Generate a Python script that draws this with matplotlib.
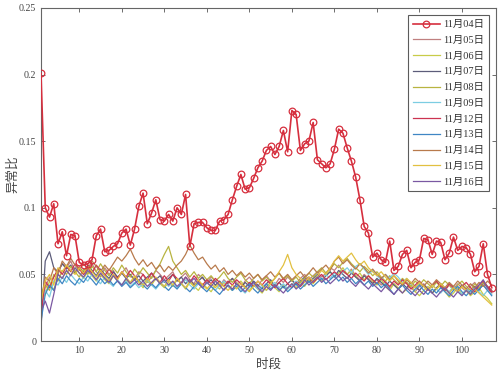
import numpy as np
import matplotlib
matplotlib.use("Agg")
import matplotlib.pyplot as plt

plt.rcParams['font.family'] = ['Liberation Serif', 'Noto Sans CJK SC', 'DejaVu Sans']

# values in units of 0.001 (異常比 x 1000), periods 1..107
red04 = [201,100,93,103,73,82,64,80,79,59,
         57,58,61,79,84,67,68,71,73,81,
         84,72,84,101,111,88,96,106,91,90,
         95,90,100,95,110,71,88,89,89,85,
         83,83,90,91,95,106,116,125,114,115,
         122,130,135,143,146,140,146,158,142,173,
         170,143,148,150,164,136,133,130,133,144,
         159,156,145,135,123,106,86,81,63,66,
         61,59,75,53,56,65,68,55,59,61,
         77,76,65,75,74,61,66,78,68,71,
         70,65,52,56,73,50,40]
s05 = [25,40,48,44,52,58,55,60,52,56, 50,54,58,52,48,55,50,53,47,51,
       55,49,46,52,50,44,48,53,50,46, 49,52,45,48,51,46,43,50,47,44,
       48,45,41,46,43,47,44,40,45,48, 44,41,46,49,45,42,47,44,48,45,
       43,47,50,46,49,52,48,51,55,53, 57,52,50,54,49,46,50,47,44,46,
       42,45,40,43,39,42,44,40,37,41, 43,39,42,45,40,38,42,39,43,40,
       37,41,44,39,42,38,36]
s06 = [30,35,45,38,50,47,53,49,55,51, 47,52,49,45,50,46,43,49,45,42,
       46,43,48,44,40,45,42,47,43,40, 44,41,46,43,39,44,41,38,43,40,
       37,42,39,44,41,38,42,45,41,38, 42,39,36,41,44,40,37,42,39,43,
       40,44,41,46,43,47,45,49,52,48, 51,55,50,53,48,51,46,49,45,42,
       46,41,38,43,40,36,39,42,37,34, 38,41,36,39,42,37,33,36,40,35,
       38,34,37,40,35,32,28]
s07 = [10,60,67,55,52,58,54,57,51,55, 52,57,53,49,54,50,47,52,48,51,
       47,50,46,49,45,48,51,46,49,44, 47,50,45,48,43,46,42,45,48,43,
       46,42,45,41,44,47,42,40,44,41, 45,42,39,43,46,41,44,40,43,46,
       42,45,48,44,47,50,46,49,52,48, 53,50,47,51,48,45,49,46,43,47,
       44,41,45,42,39,43,40,44,41,38, 42,39,36,40,43,39,36,41,38,42,
       39,36,41,38,44,40,37]
s08 = [35,42,38,50,45,53,50,56,52,48, 54,50,56,52,58,53,49,55,51,57,
       52,48,54,50,55,51,47,53,58,65, 71,60,55,50,53,48,52,47,50,46,
       49,45,48,52,47,44,48,51,46,43, 47,50,45,48,44,47,51,46,49,45,
       48,44,47,51,48,52,55,51,54,58, 55,59,62,58,55,52,56,53,49,52,
       48,45,49,46,43,47,44,41,45,42, 46,43,40,44,41,45,42,38,42,45,
       41,38,43,40,44,41,38]
s09 = [28,38,33,45,42,48,44,50,46,43, 48,45,50,46,43,48,44,41,46,42,
       45,41,44,40,43,46,42,39,43,45, 41,44,40,43,46,42,39,43,40,44,
       41,38,42,45,41,38,42,39,36,40, 43,39,42,38,41,44,40,43,39,42,
       45,41,44,48,45,49,46,50,47,51, 48,52,55,51,56,58,54,50,53,49,
       46,50,47,51,48,44,47,43,40,44, 41,38,42,39,36,40,37,41,38,35,
       39,36,40,37,34,38,35]
s12 = [20,45,40,48,54,50,56,52,58,54, 50,55,51,57,53,49,54,50,47,52,
       48,53,49,45,50,46,51,47,44,49, 45,50,47,43,48,44,49,45,42,46,
       43,47,44,41,45,42,46,43,40,44, 41,45,42,46,43,40,44,47,43,40,
       44,41,45,48,44,47,50,46,49,52, 49,53,50,47,51,48,45,49,46,43,
       47,44,41,45,42,46,43,39,42,45, 41,38,42,45,41,38,43,40,37,41,
       44,40,37,42,45,41,38]
s13 = [15,35,42,38,47,43,49,45,42,47, 44,49,46,42,47,43,46,42,45,41,
       44,40,43,46,42,39,43,40,44,41, 38,42,39,43,40,37,41,44,40,37,
       41,38,35,39,42,38,41,37,40,43, 39,36,40,43,39,42,38,41,37,40,
       43,39,42,45,41,44,47,43,46,49, 45,48,44,47,43,46,42,45,41,44,
       40,43,39,35,39,42,38,35,39,42, 38,35,39,36,40,37,34,38,41,37,
       34,38,35,39,42,38,34]
s14 = [30,48,45,55,50,60,56,62,57,53, 58,54,60,56,52,57,53,58,63,60,
       64,69,62,57,61,56,59,54,57,52, 56,53,57,60,65,72,66,61,63,58,
       54,57,52,55,50,53,49,52,48,51, 47,50,46,49,52,48,51,47,50,46,
       49,52,48,51,55,51,54,57,53,60, 63,58,61,57,54,58,55,51,54,50,
       47,50,46,49,45,42,46,43,47,44, 41,45,42,46,43,40,44,41,45,42,
       39,43,40,44,41,45,42]
s15 = [30,45,50,42,55,52,57,53,50,55, 51,56,52,48,53,49,45,50,46,52,
       48,44,49,45,42,47,43,48,44,41, 46,42,47,43,40,45,41,46,42,39,
       43,40,44,41,38,42,39,43,40,37, 41,45,42,38,43,47,52,57,65,55,
       50,47,44,48,45,49,53,50,55,60, 64,60,63,66,61,57,60,55,52,49,
       52,48,45,49,46,43,47,44,40,44, 41,38,42,39,43,40,36,40,37,41,
       38,35,39,36,33,30,27]
s16 = [22,30,21,35,50,47,53,49,55,51, 48,53,50,46,51,47,44,49,45,42,
       47,43,46,42,45,41,44,47,43,46, 42,45,41,44,48,44,47,43,40,44,
       41,45,42,38,42,39,43,40,37,41, 44,40,37,41,38,42,39,36,40,43,
       39,42,46,42,45,48,44,47,43,46, 49,45,48,44,41,45,42,39,43,40,
       37,41,38,35,39,36,40,37,34,38, 35,39,36,33,37,40,36,33,37,34,
       38,35,39,42,46,40,37]

labels = ['11月04日', '11月05日', '11月06日', '11月07日', '11月08日', '11月09日',
          '11月12日', '11月13日', '11月14日', '11月15日', '11月16日']
others = [s05, s06, s07, s08, s09, s12, s13, s14, s15, s16]
colors = ['#c08080', '#c8cc48', '#5c5c7a', '#b8b440', '#7ccde2',
          '#cc3350', '#3f86c4', '#b87a4c', '#e2c040', '#7a58a2']
yticks = [0, 0.05, 0.1, 0.15, 0.2, 0.25]
ytick_labels = ['0', '0.05', '0.1', '0.15', '0.2', '0.25']
xticks = [10, 20, 30, 40, 50, 60, 70, 80, 90, 100]

fig = plt.figure(figsize=(5.0, 3.76), dpi=100)
ax = fig.add_axes([0.082, 0.093, 0.910, 0.886])

red = np.array(red04) / 1000.0
t = np.arange(1, len(red) + 1)
ax.plot(t, red, color='#d62f3e', lw=1.2, marker='o', ms=4.8,
        mfc='none', mec='#d62f3e', mew=0.9, label=labels[0], zorder=5)
for s, c, lab in zip(others, colors, labels[1:]):
    v = np.array(s) / 1000.0
    ax.plot(np.arange(1, len(v) + 1), v, color=c, lw=0.9, label=lab)

ax.set_xlim(1, 108)
ax.set_ylim(0, 0.25)
ax.set_yticks(yticks)
ax.set_yticklabels(ytick_labels)
ax.set_xticks(xticks)
ax.tick_params(direction='in', length=3, width=0.6, colors='#555555',
               labelsize=7.2, labelcolor='#444444', top=True, right=True)
for sp in ax.spines.values():
    sp.set_color('#666666')
    sp.set_linewidth(0.8)

ax.set_xlabel('时段', fontsize=9, color='#444444', labelpad=3)
ax.set_ylabel('异常比', fontsize=9, color='#444444')
ax.yaxis.set_label_coords(-0.048, 0.5)

leg = ax.legend(loc='upper right', fontsize=7.5, frameon=True, fancybox=False,
                edgecolor='#333333', handlelength=2.6, labelspacing=0.62,
                borderaxespad=0.7, handletextpad=0.3, borderpad=0.45)
leg.get_frame().set_linewidth(0.8)
for txt in leg.get_texts():
    txt.set_color('#333333')

fig.savefig('out.png', dpi=100)
